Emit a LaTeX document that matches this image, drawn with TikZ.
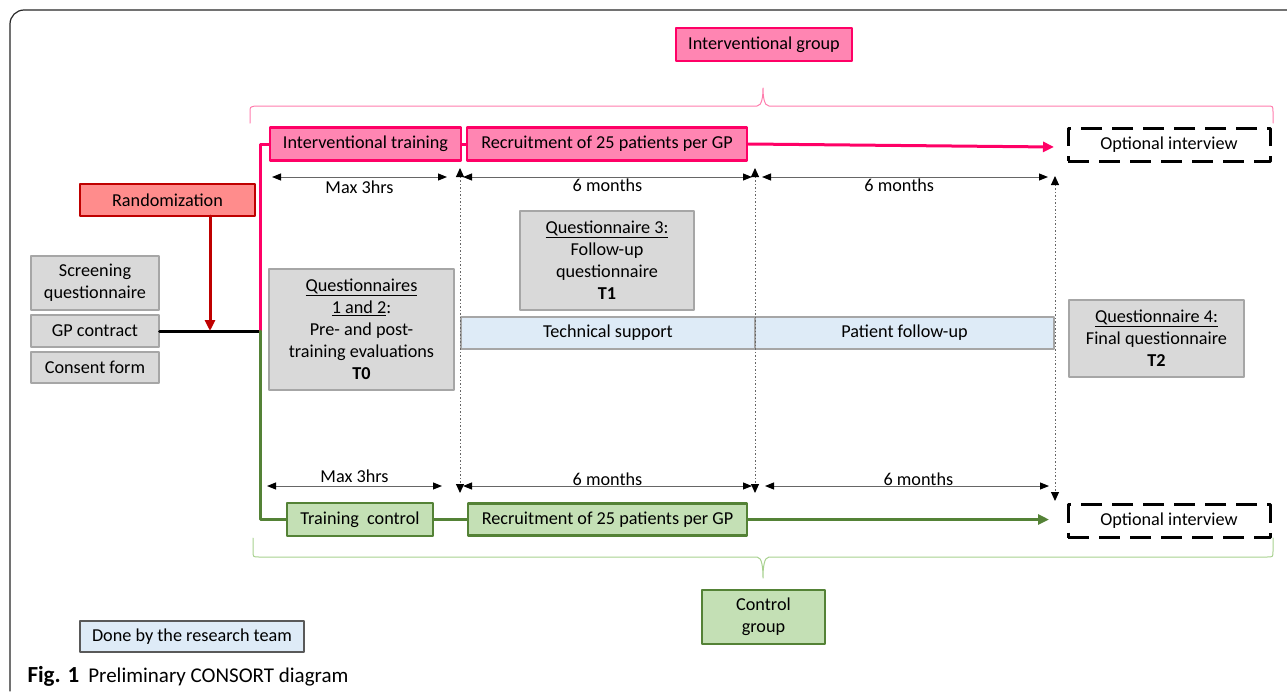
\documentclass[tikz,border=0pt]{standalone}
\usepackage{fontspec}
\setmainfont{Carlito}
\usepackage{tikz}
\usetikzlibrary{arrows.meta}
\definecolor{ffqq66}{rgb}{1.,0.,0.4}
\definecolor{ff80b0}{rgb}{1.,0.52,0.70}
\definecolor{ff7dad}{rgb}{1.,0.49,0.68}
\definecolor{ccqqqq}{rgb}{0.75,0.,0.}
\definecolor{ff8c8c}{rgb}{1.,0.55,0.55}
\definecolor{gg8235}{rgb}{0.33,0.51,0.21}
\definecolor{c5e0b4}{rgb}{0.77,0.88,0.71}
\definecolor{a9d18e}{rgb}{0.66,0.82,0.56}
\definecolor{d9d9d9}{rgb}{0.85,0.85,0.85}
\definecolor{a6a6a6}{rgb}{0.65,0.65,0.65}
\definecolor{deebf7}{rgb}{0.87,0.92,0.97}
\definecolor{gg5959}{rgb}{0.35,0.35,0.35}
\tikzstyle{every node}=[font=\fontsize{18.2}{22}\selectfont]

\begin{document}
\begin{tikzpicture}[line cap=round,line join=round,>={Triangle[length=9pt,width=7pt]},x=1pt,y=-1pt,
  pinkbox/.style={draw=ffqq66,fill=ff80b0,line width=2.8pt,minimum height=33pt,inner sep=2pt},
  greenbox/.style={draw=gg8235,fill=c5e0b4,line width=2.8pt,minimum height=33pt,inner sep=2pt},
  graybox/.style={draw=a6a6a6,fill=d9d9d9,line width=1.2pt,align=center,inner sep=2pt},
  bluebox/.style={draw=a6a6a6,fill=deebf7,line width=1.2pt,minimum height=32pt,inner sep=2pt},
  optbox/.style={draw=black,line width=3pt,line cap=butt,dash pattern=on 21pt off 10pt,minimum width=202pt,minimum height=33pt},
  dimline/.style={<->,black!60,line width=1pt,>={Triangle[length=9pt,width=7pt,color=black]}},
  timeline/.style={<->,black!60,line cap=butt,dash pattern=on 1.5pt off 2pt,line width=1pt,>={Triangle[length=9pt,width=8pt,color=black]}},
  armline/.style={line width=3pt}]
\useasboundingbox (0,0) rectangle (1287,691);
\draw [rounded corners=14pt,line width=1.2pt,color=black!85] (10,691) -- (10,10) -- (1287,10);
% group labels and braces
\node[pinkbox,minimum width=176pt] (intgroup) at (764,44.5) {Interventional group};
\draw [ff7dad,line width=1pt] (250,123) -- (250,112) .. controls (250,107) .. (255,106) -- (757,106) .. controls (762,106) and (763,96) .. (763,88) .. controls (763,96) and (764,106) .. (769,106) -- (1267,106) .. controls (1273,106) .. (1273,112) -- (1273,123);
\node[greenbox,minimum width=123pt,minimum height=54pt,align=center] (ctrlgroup) at (763.5,617) {Control\\group};
\draw [a9d18e,line width=1pt] (253,538) -- (253,551) .. controls (253,557) .. (259,557) -- (757,557) .. controls (762,557) and (763,568) .. (763,578) .. controls (763,568) and (764,557) .. (769,557) -- (1267,557) .. controls (1273,557) .. (1273,551) -- (1273,538);
% left column
\node[draw=ccqqqq,fill=ff8c8c,line width=2.8pt,minimum width=175pt,minimum height=32pt] (rando) at (167.5,200) {Randomization};
\node[graybox,minimum width=128pt,minimum height=54pt] (screen) at (95,283) {Screening\\questionnaire};
\node[graybox,minimum width=128pt,minimum height=32pt] (gpc) at (95,331) {GP contract};
\node[graybox,minimum width=128pt,minimum height=31pt] (consent) at (95,367.5) {Consent form};
\coordinate (split) at (260,331);
\coordinate (randoout) at (210,216);
% interventional arm
\node[pinkbox,minimum width=191pt] (inttrain) at (365.5,144) {Interventional training};
\node[pinkbox,minimum width=280pt] (recI) at (607,144) {Recruitment of 25 patients per GP};
\node[optbox] (optI) at (1169,144.5) {Optional interview};
\coordinate (endI) at (1054,147);
% control arm
\node[greenbox,minimum width=146pt] (trainC) at (360,519.5) {Training~ control};
\node[greenbox,minimum width=279pt,minimum height=32pt] (recC) at (607.5,519.5) {Recruitment of 25 patients per GP};
\node[optbox] (optC) at (1169,521) {Optional interview};
\coordinate (endC) at (1049,519.5);
% questionnaires
\node[graybox,minimum width=185pt,minimum height=121pt] (q12) at (361.5,329.5) {\underline{Questionnaires}\\\underline{1 and 2}:\\Pre- and post-\\training evaluations\\\textbf{T0}};
\node[graybox,minimum width=174pt,minimum height=99pt] (q3) at (607,260.5) {\underline{Questionnaire 3:}\\Follow-up\\questionnaire\\\textbf{T1}};
\node[graybox,minimum width=175pt,minimum height=77pt] (q4) at (1156.5,338.5) {\underline{Questionnaire 4:}\\Final questionnaire\\\textbf{T2}};
\node[bluebox,minimum width=294pt] (tech) at (608,333) {Technical support};
\node[bluebox,minimum width=299pt] (follow) at (904.5,333) {Patient follow-up};
\node[draw=gg5959,fill=deebf7,line width=1.2pt,minimum width=224pt,minimum height=31pt] (done) at (192,636.5) {Done by the research team};
\node[anchor=base west,font=\fontsize{21}{24}\selectfont] (caption) at (24,682) {{\fontsize{23}{24}\selectfont\textbf{Fig. 1}}\hspace{9pt}Preliminary CONSORT diagram};
% connectors
\draw [armline] (gpc.east) -- (split);
\draw [->,ccqqqq,armline,>={Triangle[length=11pt,width=10pt]}] (randoout) -- (randoout |- split);
\draw [ffqq66,armline] (split) |- (inttrain.west);
\draw [gg8235,armline] (split) |- (trainC.west);
\draw [ffqq66,armline] (inttrain.east) -- (recI.west);
\draw [->,ffqq66,armline,>={Triangle[length=11pt,width=10pt]}] (recI.east) -- (endI);
\draw [gg8235,armline] (trainC.east) -- (recC.west);
\draw [->,gg8235,armline,>={Triangle[length=11pt,width=10pt]}] (recC.east) -- (endC);
% time marks
\coordinate (m1a) at (460,168);
\coordinate (m1b) at (460,493);
\coordinate (m2a) at (755,168);
\coordinate (m2b) at (755,493);
\coordinate (m3a) at (1055,176);
\coordinate (m3b) at (1055,501);
\draw [timeline] (m1a) -- (m1b);
\draw [timeline] (m2a) -- (m2b);
\draw [timeline] (m3a) -- (m3b);
\draw [dimline] (272,177) -- (447,177) node[midway,below,inner sep=3pt,text=black] (lab1) {Max 3hrs};
\draw [dimline] (463,177) -- (752,177) node[midway,below,inner sep=1pt,text=black] (lab2) {6 months};
\draw [dimline] (762,177) -- (1048,177) node[pos=0.48,below,inner sep=1pt,text=black] (lab3) {6 months};
\draw [dimline] (267,486) -- (442,486) node[midway,above,inner sep=3pt,text=black] (lab4) {Max 3hrs};
\draw [dimline] (463,486) -- (752,486) node[midway,above,inner sep=0pt,text=black] (lab5) {6 months};
\draw [dimline] (765,486) -- (1049,486) node[pos=0.54,above,inner sep=0pt,text=black] (lab6) {6 months};
\end{tikzpicture}
\end{document}
